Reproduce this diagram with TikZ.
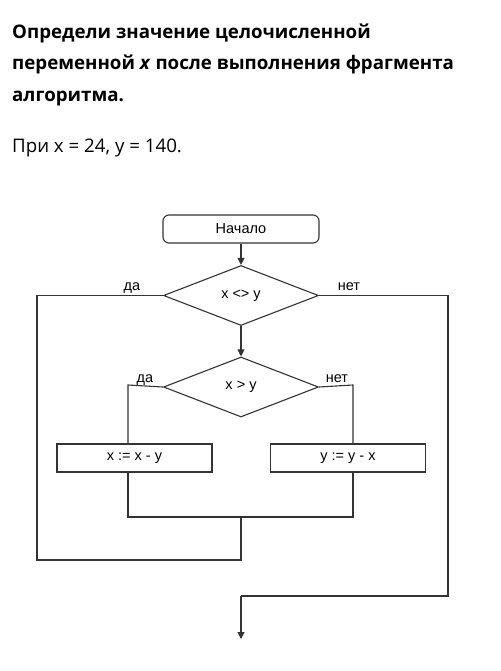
\documentclass[tikz,border=0pt]{standalone}
\usepackage{fontspec}
\setmainfont{Open Sans}
\newfontfamily\chartfont{Liberation Sans}
\usetikzlibrary{shapes.geometric,arrows.meta}

\tikzset{
  title/.style={anchor=base west,inner sep=0pt,font=\fontsize{18.7}{22}\selectfont\bfseries},
  given/.style={anchor=base west,inner sep=0pt,font=\fontsize{18.7}{22}\selectfont},
  flow/.style={draw=black!80,line width=1.1pt},
  startbox/.style={flow,rounded corners=6pt,minimum width=156pt,minimum height=28pt,inner sep=0pt,font=\chartfont\fontsize{14.5}{16}\selectfont},
  actbox/.style={flow,minimum width=155pt,minimum height=28pt,inner sep=0pt,font=\chartfont\fontsize{14.5}{16}\selectfont},
  cond/.style={flow,diamond,aspect=2.6,minimum width=155pt,minimum height=60pt,inner sep=0pt,font=\chartfont\fontsize{14.5}{16}\selectfont},
  lbl/.style={anchor=base,inner sep=0pt,font=\chartfont\fontsize{14.5}{16}\selectfont},
  link/.style={draw=black!80,line width=1.1pt},
  arr/.style={link,-{Triangle[width=7pt,length=7pt]}}
}

\begin{document}
\begin{tikzpicture}[x=1pt,y=-1pt]
\useasboundingbox (0,0) rectangle (500,671);
% task text
\node[title] (title1) at (12,38.5) {Определи значение целочисленной};
\node[title] (title2) at (12,70) {переменной \textit{x} после выполнения фрагмента};
\node[title] (title3) at (12,101.5) {алгоритма.};
\node[given] (given) at (12,152.5) {При x = 24, y = 140.};
% flowchart
\node[startbox] (start) at (241,229) {Начало};
\node[cond] (cond1) at (241,295.5) {x <> y};
\node[cond] (cond2) at (241,387) {x > y};
\node[actbox] (boxL) at (134.5,458) {x := x - y};
\node[actbox] (boxR) at (348,458) {y := y - x};
\coordinate (brL) at (128,385);
\coordinate (brR) at (353,385);
\coordinate (join) at (241,517);
\coordinate (loopL) at (37,560);
\coordinate (exitR) at (448,596);
\coordinate (end) at (241,639);
\node[lbl] (yes1) at (132,290) {да};
\node[lbl] (no1) at (349,290) {нет};
\node[lbl] (yes2) at (145,382) {да};
\node[lbl] (no2) at (337,382) {нет};
\draw[arr] (start) -- (cond1);
\draw[arr] (cond1) -- (cond2);
\draw[link] (cond2.west) -- (brL) -- (brL |- boxL.north);
\draw[link] (cond2.east) -- (brR) -- (brR |- boxR.north);
\draw[link] (brL |- boxL.south) -- (brL |- join) -- (brR |- join) -- (brR |- boxR.south);
\draw[link] (join) -- (join |- loopL) -- (loopL) -- (loopL |- cond1.west) -- (cond1.west);
\draw[link] (cond1.east) -- (exitR |- cond1.east) -- (exitR) -- (exitR -| end);
\draw[arr] (exitR -| end) -- (end);
\end{tikzpicture}
\end{document}
